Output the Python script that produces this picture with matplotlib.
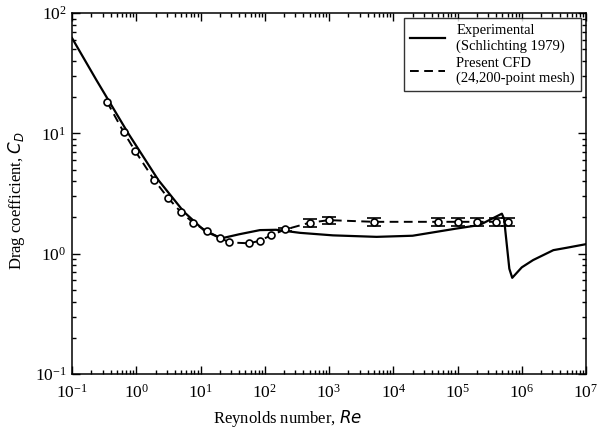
import numpy as np
import matplotlib
matplotlib.use('Agg')
from matplotlib import pyplot as plt
from matplotlib.ticker import FixedLocator, FuncFormatter, NullFormatter

plt.rcParams['font.family'] = ['Liberation Serif', 'DejaVu Serif']
plt.rcParams['mathtext.fontset'] = 'custom'
plt.rcParams['mathtext.rm'] = 'Liberation Serif'
plt.rcParams['mathtext.it'] = 'DejaVu Sans:italic'

# experimental curve (Schlichting 1979)
re_exp = [0.1, 0.24, 0.75, 2.2, 5.5, 11.7, 21, 40, 84, 150, 354, 1150, 5500,
          2.0e4, 9.8e4, 2.2e5, 4.9e5, 5.3e5, 6.4e5, 7.1e5, 1.0e6, 1.5e6,
          3.1e6, 5.0e6, 1.0e7]
cd_exp = [62, 27.7, 10.0, 4.1, 2.23, 1.54, 1.34, 1.45, 1.57, 1.58, 1.49,
          1.42, 1.38, 1.41, 1.62, 1.73, 2.15, 1.95, 0.75, 0.63, 0.77, 0.885,
          1.07, 1.12, 1.2]

# present CFD (24,200-point mesh)
re_cfd = [0.35, 0.64, 0.95, 1.9, 3.1, 4.9, 7.7, 12.5, 20, 28, 57, 84, 124,
          210, 500, 1000, 5000, 5.0e4, 1.0e5, 2.0e5, 4.0e5, 6.0e5]
cd_cfd = [18.3, 10.2, 7.2, 4.1, 2.92, 2.23, 1.81, 1.54, 1.36, 1.24, 1.22,
          1.28, 1.42, 1.59, 1.81, 1.90, 1.84, 1.84, 1.84, 1.84, 1.84, 1.84]
err_cfd = [0, 0, 0, 0, 0, 0, 0, 0, 0, 0, 0, 0, 0,
           0.06, 0.13, 0.13, 0.13, 0.13, 0.13, 0.13, 0.13, 0.13]

# decade exponents shown on each axis
x_decades = list(range(-1, 8))
y_decades = list(range(-1, 3))

fig = plt.figure(figsize=(5.98, 4.34), dpi=100)
ax = fig.add_axes([0.1204, 0.1382, 0.8596, 0.8318])

ax.plot(re_exp, cd_exp, '-', color='black', lw=1.6,
        label='Experimental\n(Schlichting 1979)')
ax.plot(re_cfd, cd_cfd, '--', color='black', lw=1.4, dashes=(4.5, 2.8),
        label='Present CFD\n(24,200-point mesh)')
err = np.array(err_cfd)
mask = err > 0
ax.errorbar(np.array(re_cfd)[mask], np.array(cd_cfd)[mask], yerr=err[mask],
            fmt='none', ecolor='black', elinewidth=1.2, capsize=5, capthick=1.2)
ax.plot(re_cfd, cd_cfd, 'o', ms=5, mfc='white', mec='black', mew=1.2)

ax.set_xscale('log')
ax.set_yscale('log')
ax.set_xlim(10.0 ** x_decades[0], 10.0 ** x_decades[-1])
ax.set_ylim(10.0 ** y_decades[0], 10.0 ** y_decades[-1])

fmt = FuncFormatter(lambda v, p: r'$\mathregular{10^{%d}}$' % round(np.log10(v)))
for axis, dec in ((ax.xaxis, x_decades), (ax.yaxis, y_decades)):
    major = [10.0 ** d for d in dec]
    minor = [m * 10.0 ** d for d in dec[:-1] for m in range(2, 10)]
    axis.set_major_locator(FixedLocator(major))
    axis.set_minor_locator(FixedLocator(minor))
    axis.set_major_formatter(fmt)
    axis.set_minor_formatter(NullFormatter())

ax.tick_params(which='both', direction='in', top=True, right=True,
               labelsize=12.5, width=1.0)
ax.tick_params(which='major', length=5.5)
ax.tick_params(axis='x', which='major', pad=7)
ax.tick_params(axis='y', which='major', pad=4)
ax.tick_params(which='minor', length=3)
for s in ax.spines.values():
    s.set_linewidth(1.1)

ax.set_xlabel(r'Reynolds number, $Re$', fontsize=12)
ax.set_ylabel(r'Drag coefficient, $C_D$', fontsize=12)
ax.xaxis.set_label_coords(0.42, -0.095)
ax.yaxis.set_label_coords(-0.088, 0.48)

leg = ax.legend(loc='upper right', fontsize=10.5, frameon=True, fancybox=False,
                edgecolor='black', handlelength=2.4, borderaxespad=0.35,
                labelspacing=0.3, handletextpad=0.8)
leg.get_frame().set_linewidth(1.0)
for t in leg.get_texts():
    t.set_multialignment('left')

fig.savefig('out.png', dpi=100)
